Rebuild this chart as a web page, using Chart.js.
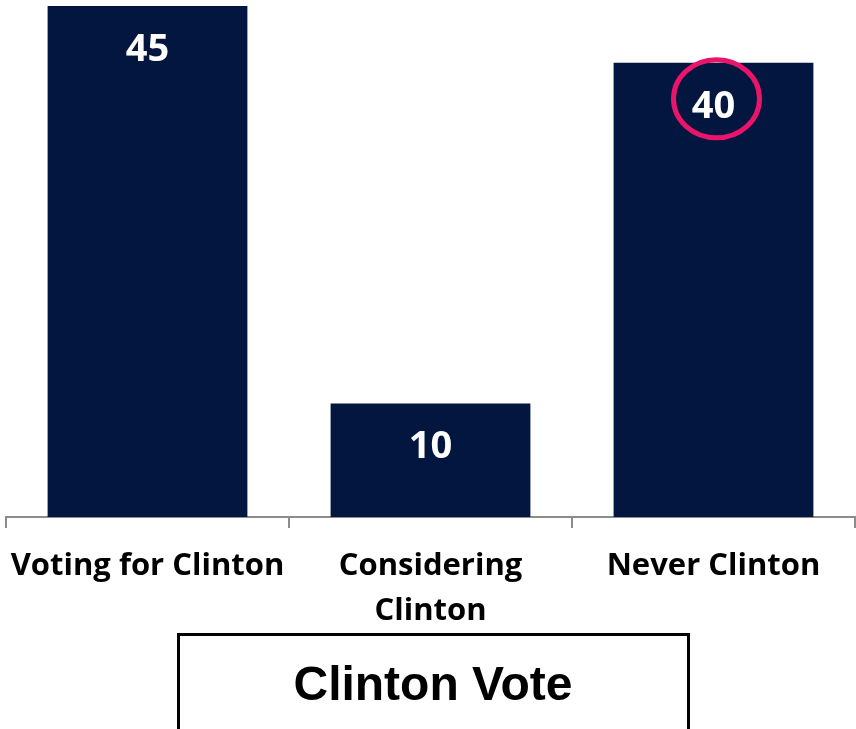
<!DOCTYPE html>
<html>
<head>
<meta charset="utf-8">
<script src="https://cdn.jsdelivr.net/npm/chart.js@4/dist/chart.umd.min.js"></script>
<style>
html,body{margin:0;padding:0;background:#fff;}
#wrap{position:relative;width:856px;height:729px;}
canvas{display:block;}
</style>
</head>
<body>
<div id="wrap"><canvas id="c" width="856" height="729"></canvas></div>
<script>
const categories = [["Voting for Clinton"], ["Considering", "Clinton"], ["Never Clinton"]];
const values = [45, 10, 40];
const highlightIndex = 2;
const titleText = "Clinton Vote";

const labelPlugin = {
  id: 'valueLabels',
  afterDatasetsDraw(chart) {
    const ctx = chart.ctx;
    const meta = chart.getDatasetMeta(0);
    ctx.save();
    ctx.fillStyle = '#ffffff';
    ctx.font = 'bold 38px "Open Sans", Lato, sans-serif';
    ctx.textAlign = 'center';
    ctx.textBaseline = 'middle';
    meta.data.forEach((bar, i) => {
      ctx.fillText(String(values[i]), bar.x, bar.y + 44);
      if (i === highlightIndex) {
        ctx.beginPath();
        ctx.strokeStyle = '#ea146b';
        ctx.lineWidth = 5;
        ctx.ellipse(bar.x + 3, bar.y + 36, 43, 39, 0, 0, Math.PI * 2);
        ctx.stroke();
      }
    });
    ctx.restore();
  },
  afterDraw(chart) {
    const ctx = chart.ctx;
    ctx.save();
    ctx.strokeStyle = '#000';
    ctx.lineWidth = 3;
    ctx.strokeRect(178.5, 634.5, 510, 110);
    ctx.fillStyle = '#000';
    ctx.font = 'bold 48px "Liberation Sans", Arial, sans-serif';
    ctx.textAlign = 'center';
    ctx.textBaseline = 'alphabetic';
    ctx.fillText(titleText, 433, 700);
    ctx.restore();
  }
};

new Chart(document.getElementById('c'), {
  type: 'bar',
  data: {
    labels: categories,
    datasets: [{
      data: values,
      backgroundColor: '#021640',
      borderWidth: 0,
      categoryPercentage: 1,
      barPercentage: 0.706
    }]
  },
  options: {
    responsive: false,
    animation: false,
    events: [],
    layout: { padding: { left: 6, top: 6, right: 1, bottom: 0 } },
    plugins: { legend: { display: false }, tooltip: { enabled: false }, title: { display: false } },
    scales: {
      y: { display: false, min: 0, max: 45 },
      x: {
        afterFit(scale) {
          scale.height = 729 - 517;
          scale.paddingLeft = 0;
          scale.paddingRight = 0;
        },
        border: { display: true, color: '#8c8c8c', width: 2 },
        grid: { display: true, offset: true, drawOnChartArea: false, drawTicks: true, tickLength: 11, color: '#8c8c8c', lineWidth: 2 },
        ticks: {
          color: '#000',
          padding: 16,
          font: { family: '"Open Sans", Lato, sans-serif', weight: 'bold', size: 31, lineHeight: 1.45 },
          maxRotation: 0, autoSkip: false
        }
      }
    }
  },
  plugins: [labelPlugin]
});
</script>
</body>
</html>
